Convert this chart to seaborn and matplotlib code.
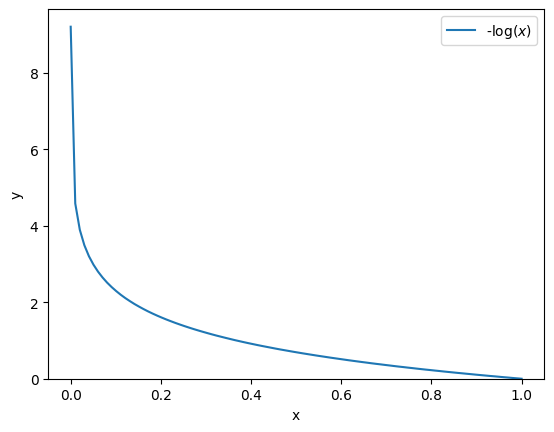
import numpy as np
import pandas as pd
import seaborn as sns
import matplotlib.pyplot as plt

# values
x_vals = [0.0001, 0.0102, 0.0203, 0.0304, 0.0405, 0.0506, 0.0607, 0.0708, 0.0809, 0.0910,
          0.1011, 0.1112, 0.1213, 0.1314, 0.1415, 0.1516, 0.1617, 0.1718, 0.1819, 0.1920,
          0.2021, 0.2122, 0.2223, 0.2324, 0.2425, 0.2526, 0.2627, 0.2728, 0.2829, 0.2930,
          0.3031, 0.3132, 0.3233, 0.3334, 0.3435, 0.3536, 0.3637, 0.3738, 0.3839, 0.3940,
          0.4041, 0.4142, 0.4243, 0.4344, 0.4445, 0.4546, 0.4647, 0.4748, 0.4849, 0.4950,
          0.5051, 0.5152, 0.5253, 0.5354, 0.5455, 0.5556, 0.5657, 0.5758, 0.5859, 0.5960,
          0.6061, 0.6162, 0.6263, 0.6364, 0.6465, 0.6566, 0.6667, 0.6768, 0.6869, 0.6970,
          0.7071, 0.7172, 0.7273, 0.7374, 0.7475, 0.7576, 0.7677, 0.7778, 0.7879, 0.7980,
          0.8081, 0.8182, 0.8283, 0.8384, 0.8485, 0.8586, 0.8687, 0.8788, 0.8889, 0.8990,
          0.9091, 0.9192, 0.9293, 0.9394, 0.9495, 0.9596, 0.9697, 0.9798, 0.9899, 1.0000]
y_vals = [9.210, 4.585, 3.897, 3.493, 3.206, 2.984, 2.802, 2.648, 2.514, 2.397,
          2.292, 2.196, 2.109, 2.030, 1.955, 1.887, 1.822, 1.761, 1.704, 1.650,
          1.599, 1.550, 1.504, 1.459, 1.417, 1.376, 1.337, 1.299, 1.263, 1.228,
          1.194, 1.161, 1.129, 1.099, 1.069, 1.040, 1.011, 0.984, 0.957, 0.931,
          0.906, 0.881, 0.857, 0.834, 0.811, 0.788, 0.766, 0.745, 0.724, 0.703,
          0.683, 0.663, 0.644, 0.625, 0.606, 0.588, 0.570, 0.552, 0.535, 0.518,
          0.501, 0.484, 0.468, 0.452, 0.436, 0.421, 0.405, 0.390, 0.376, 0.361,
          0.347, 0.332, 0.318, 0.305, 0.291, 0.278, 0.264, 0.251, 0.238, 0.226,
          0.213, 0.201, 0.188, 0.176, 0.164, 0.152, 0.141, 0.129, 0.118, 0.106,
          0.095, 0.084, 0.073, 0.063, 0.052, 0.041, 0.031, 0.020, 0.010, 0.000]
label = '-log($x$)'

df = pd.DataFrame({'x': x_vals, 'y': y_vals})

fig, ax = plt.subplots(figsize=(6.4, 4.8), dpi=100)
sns.lineplot(data=df, x='x', y='y', ax=ax, label=label, color='#1f77b4', sort=False)
ax.set_ylim(bottom=0)
ax.set_xlabel('x')
ax.set_ylabel('y')
ax.legend(loc='upper right')

plt.savefig('out.png', dpi=100, bbox_inches='tight')
